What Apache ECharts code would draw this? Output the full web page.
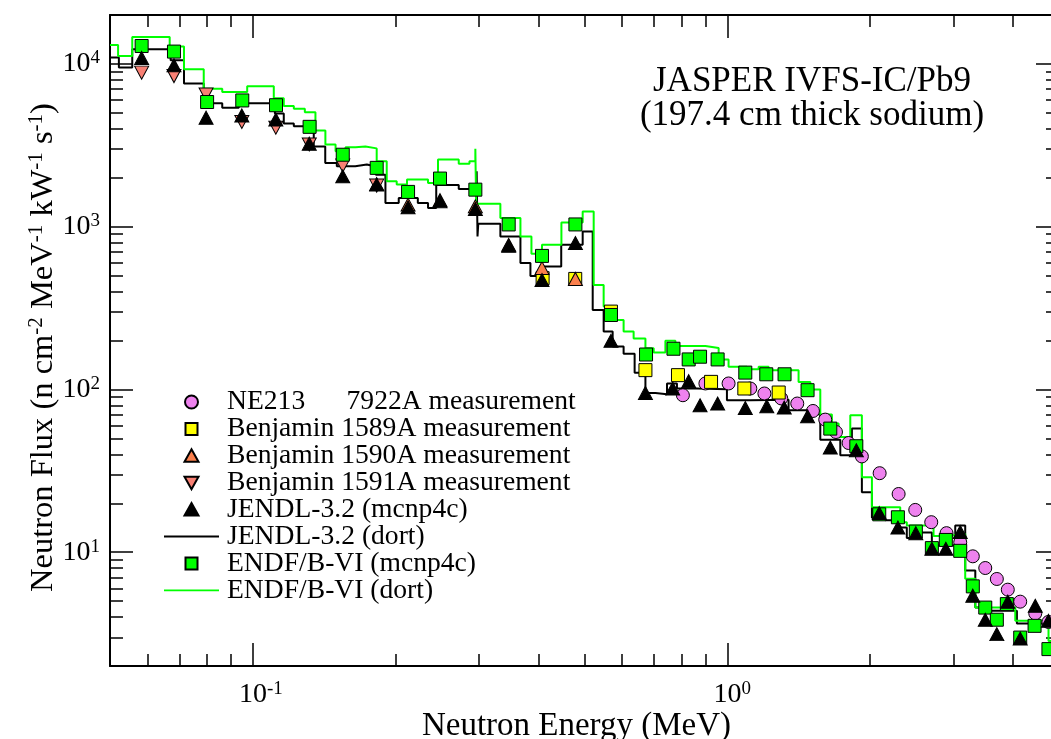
<!DOCTYPE html>
<html><head><meta charset="utf-8">
<script src="https://cdn.jsdelivr.net/npm/echarts@6/dist/echarts.min.js"></script>
<style>html,body{margin:0;padding:0;background:#fff}#c{width:1051px;height:739px}</style>
</head><body><div id="c"></div>
<script>
// ---------- data ----------
const ne213E = [0.806, 0.899, 1.006, 1.118, 1.197, 1.299, 1.404, 1.515, 1.608, 1.694, 1.801, 1.921, 2.094, 2.296, 2.489, 2.690, 2.897, 3.096, 3.291, 3.496, 3.698, 3.900, 4.142, 4.456, 4.75];
const ne213V = [92.2, 108.9, 108.9, 101.4, 94.5, 88.1, 82.0, 73.8, 65.3, 54.8, 46.9, 38.8, 30.6, 22.8, 18.2, 15.3, 13.1, 11.5, 9.44, 8.00, 6.85, 5.89, 4.97, 4.21, 3.73];

const b1589E = [0.408, 0.478, 0.5685, 0.672, 0.787, 0.924, 1.086, 1.283];
const b1589V = [483, 478, 301, 131.5, 122.5, 111.4, 101.4, 95.8];

const b1590E = [0.1824, 0.2124, 0.2480, 0.2944, 0.3461, 0.4068, 0.4784];
const b1590V = [1828, 1368, 1456, 1334, 774, 557, 478];

const b1591E = [0.0583, 0.0682, 0.0797, 0.0948, 0.1118, 0.1315, 0.1547, 0.1824];
const b1591V = [8850, 8430, 6500, 4400, 4060, 3200, 2375, 1790];

const jendlMcnpE = [0.0583, 0.0682, 0.0797, 0.0948, 0.1118, 0.1315, 0.1547, 0.1824, 0.2124, 0.2480, 0.2944, 0.3461, 0.4068, 0.4784, 0.5685, 0.672, 0.767, 0.829, 0.876, 0.954, 1.091, 1.211, 1.318, 1.476, 1.648, 1.870, 2.090, 2.288, 2.496, 2.698, 2.887, 3.096, 3.291, 3.496, 3.698, 3.900, 4.142, 4.456, 4.75];
const jendlMcnpV = [10900, 9820, 4680, 4830, 4560, 3240, 2040, 1815, 1318, 1432, 1285, 764, 471, 794, 199, 95.3, 101.4, 112.5, 80, 82, 77, 79, 77.4, 68.4, 44, 42.3, 17.4, 14.2, 13.1, 10.5, 10.5, 13.3, 5.41, 3.85, 3.14, 4.97, 2.95, 4.69, 3.79];

const jendlDortE = [0.05, 0.0522, 0.0557, 0.0671, 0.0716, 0.0788, 0.0862, 0.0934, 0.1113, 0.1162, 0.1220, 0.1344, 0.1421, 0.1503, 0.1644, 0.1739, 0.1816, 0.1903, 0.2030, 0.2227, 0.2340, 0.2435, 0.2716, 0.2963, 0.2975, 0.2986, 0.3324, 0.3664, 0.3846, 0.4068, 0.4466, 0.4956, 0.5203, 0.5487, 0.5732, 0.6045, 0.6377, 0.6720, 0.7054, 0.7462, 0.7831, 0.8630, 0.998, 1.118, 1.346, 1.483, 1.570, 1.730, 1.830, 1.921, 2.017, 2.152, 2.296, 2.389, 2.529, 2.698, 3.022, 3.172, 3.331, 3.523, 4.076, 5.0];
const jendlDortV = [10950, 9500, 12320, 10530, 7600, 5730, 5380, 5730, 4965, 4310, 4150, 3110, 2468, 2353, 2410, 2343, 2090, 1399, 1502, 1399, 1303, 1802, 1708, 2193, 871, 1043, 871, 598, 499, 569, 774, 935, 308, 227, 183.5, 166, 126.6, 95.3, 93.6, 108.9, 101.4, 100.4, 85.9, 86.5, 74.5, 70.4, 49.2, 39.4, 57.5, 23.4, 16.3, 15.7, 14.2, 12.25, 13.2, 11.0, 14.6, 7.71, 4.57, 4.37, 3.65, 3.65];

const endfMcnpE = [0.0583, 0.0682, 0.0801, 0.0950, 0.1119, 0.1317, 0.1547, 0.1824, 0.2124, 0.2480, 0.2944, 0.3461, 0.4068, 0.4784, 0.5685, 0.674, 0.770, 0.829, 0.876, 0.954, 1.091, 1.208, 1.320, 1.476, 1.648, 1.870, 2.090, 2.288, 2.496, 2.698, 2.887, 3.096, 3.291, 3.496, 3.698, 3.882, 4.142, 4.441, 4.75];
const endfMcnpV = [12900, 11920, 5840, 5970, 5580, 4110, 2770, 2300, 1637, 1977, 1690, 1033, 662, 1033, 287, 164, 178, 153, 159, 153, 127, 124, 124, 99, 57.5, 44.8, 17.1, 16.4, 13.4, 10.6, 11.9, 10.2, 6.17, 4.57, 3.85, 4.80, 2.99, 3.53, 2.54];

const endfDortE = [0.05, 0.0520, 0.0557, 0.0668, 0.0716, 0.0788, 0.0862, 0.0973, 0.1107, 0.1162, 0.1220, 0.1287, 0.1355, 0.1422, 0.1494, 0.1568, 0.1646, 0.1727, 0.1824, 0.1915, 0.2010, 0.2113, 0.2340, 0.2456, 0.2716, 0.2861, 0.2944, 0.2955, 0.3324, 0.3664, 0.3865, 0.4068, 0.4470, 0.4956, 0.5228, 0.5487, 0.5760, 0.6045, 0.6346, 0.6720, 0.6995, 0.7404, 0.7772, 0.8989, 0.9587, 1.006, 1.100, 1.164, 1.222, 1.413, 1.496, 1.570, 1.661, 1.716, 1.816, 1.921, 2.017, 2.314, 2.389, 2.720, 2.879, 3.172, 3.331, 4.044, 4.752, 5.0];
const endfDortV = [13090, 11210, 14660, 12790, 9270, 7050, 6720, 7310, 6150, 5510, 5310, 5060, 3905, 3200, 2914, 3080, 3110, 3030, 2525, 1901, 1815, 1948, 1859, 2590, 2434, 2525, 3010, 1386, 1131, 871, 682, 774, 1062, 1242, 439, 323, 267, 227, 206, 179, 169, 199, 185, 180, 153, 138, 133, 138, 131.5, 111.3, 100, 70.1, 61.8, 51.1, 69.4, 28.9, 18.9, 15.3, 14.6, 12.6, 12.9, 6.87, 4.57, 3.79, 2.85, 2.85];

const xMajorTicks = [0.1, 1];
const xMinorTicks = [0.06, 0.07, 0.08, 0.09, 0.2, 0.3, 0.4, 0.5, 0.6, 0.7, 0.8, 0.9, 2, 3, 4];
const yMajorTicks = [10, 100, 1000, 10000];
const yMinorTicks = [3, 4, 5, 6, 7, 8, 9, 20, 30, 40, 50, 60, 70, 80, 90, 200, 300, 400, 500, 600, 700, 800, 900, 2000, 3000, 4000, 5000, 6000, 7000, 8000, 9000];

const seriesNames = ['NE213      7922A measurement', 'Benjamin 1589A measurement', 'Benjamin 1590A measurement', 'Benjamin 1591A measurement', 'JENDL-3.2 (mcnp4c)', 'JENDL-3.2 (dort)', 'ENDF/B-VI (mcnp4c)', 'ENDF/B-VI (dort)'];

// ---------- chart ----------
const FONT = '"Liberation Serif", "Times New Roman", Times, serif';
const zip = (a, b) => a.map((x, i) => [x, b[i]]);
const XMIN = 0.05, XMAX = 5, YMIN = 2, YMAX = 20000;
const supStyle = { fontFamily: FONT, fontSize: 19, lineHeight: 14, verticalAlign: 'top', color: '#000' };

// legend icons: a 55x13 frame with the glyph in the centre (frame set by the move-to points)
const FRAME = 'M0,0M55,13';
const legendIcons = [
  'path://' + FRAME + 'M34,6.5A6.5,6.5,0,1,1,21,6.5A6.5,6.5,0,1,1,34,6.5Z',
  'path://' + FRAME + 'M21.5,0.5L33.5,0.5L33.5,12.5L21.5,12.5Z',
  'path://' + FRAME + 'M27.5,0L34.5,12.5L20.5,12.5Z',
  'path://' + FRAME + 'M20.5,0.5L34.5,0.5L27.5,13Z',
  'path://' + FRAME + 'M27.5,0L34.5,12.5L20.5,12.5Z',
  'path://' + FRAME + 'M0,5.6L55,5.6L55,7.4L0,7.4Z',
  'path://' + FRAME + 'M21.5,0.5L33.5,0.5L33.5,12.5L21.5,12.5Z',
  'path://' + FRAME + 'M0,5.6L55,5.6L55,7.4L0,7.4Z'
];

function xAxisDef(pos, ticks, len, major) {
  const showLabel = major && pos === 'bottom';
  return {
    type: 'log', logBase: 10, min: XMIN, max: XMAX, position: pos, gridIndex: 0,
    axisLine: { show: major, onZero: false, lineStyle: { color: '#000', width: 2 } },
    axisTick: { show: true, inside: true, length: len, customValues: ticks, lineStyle: { color: '#000', width: 1.5 } },
    axisLabel: {
      show: showLabel, customValues: showLabel ? xMajorTicks : undefined, margin: 14,
      formatter: function (v) {
        const e = Math.round(Math.log10(v));
        return (e < 0 ? '{bw|10}' : '{bn|10}') + '{s|' + e + '}';
      },
      rich: {
        bw: { fontFamily: FONT, fontSize: 28, lineHeight: 30, color: '#000', padding: [0, 0, 0, 16] },
        bn: { fontFamily: FONT, fontSize: 28, lineHeight: 30, color: '#000', padding: [0, 0, 0, 10] },
        s: supStyle
      }
    },
    splitLine: { show: false }, minorTick: { show: false }, minorSplitLine: { show: false },
    name: showLabel ? 'Neutron Energy (MeV)' : '', nameLocation: 'middle', nameGap: 44, nameMoveOverlap: false,
    nameTextStyle: { fontFamily: FONT, fontSize: 33, color: '#000', padding: [0, 16, 0, 0] }
  };
}
function yAxisDef(pos, ticks, len, major) {
  const showLabel = major && pos === 'left';
  return {
    type: 'log', logBase: 10, min: YMIN, max: YMAX, position: pos, gridIndex: 0,
    axisLine: { show: major, onZero: false, lineStyle: { color: '#000', width: 2 } },
    axisTick: { show: true, inside: true, length: len, customValues: ticks, lineStyle: { color: '#000', width: 1.5 } },
    axisLabel: {
      show: showLabel, customValues: showLabel ? yMajorTicks : undefined, margin: 10,
      formatter: function (v) {
        const e = Math.round(Math.log10(v));
        return '{b|10}{s|' + e + '}';
      },
      rich: {
        b: { fontFamily: FONT, fontSize: 28, lineHeight: 30, color: '#000' },
        s: supStyle
      }
    },
    splitLine: { show: false }, minorTick: { show: false }, minorSplitLine: { show: false },
    name: showLabel ? 'Neutron Flux (n cm{s|-2} MeV{s|-1} kW{s|-1} s{s|-1})' : '',
    nameLocation: 'middle', nameRotate: 90, nameGap: 50, nameMoveOverlap: false,
    nameTextStyle: {
      fontFamily: FONT, fontSize: 32.5, color: '#000', lineHeight: 34, padding: [0, 14, 0, 0],
      rich: { s: { fontFamily: FONT, fontSize: 21, lineHeight: 18, verticalAlign: 'top', color: '#000' } }
    }
  };
}

const chart = echarts.init(document.getElementById('c'), null, { renderer: 'canvas' });
const option = {
  animation: false,
  backgroundColor: '#fff',
  title: {
    text: 'JASPER IVFS-IC/Pb9\n(197.4 cm thick sodium)',
    left: 807, top: 60, textAlign: 'center',
    textStyle: { fontFamily: FONT, fontSize: 35, fontWeight: 'normal', color: '#000', lineHeight: 34 }
  },
  grid: { left: 110, top: 15, right: -8, bottom: 73, containLabel: false, outerBoundsMode: 'none' },
  xAxis: [
    xAxisDef('bottom', xMajorTicks, 23, true),
    xAxisDef('bottom', xMinorTicks, 12, false),
    xAxisDef('top', xMajorTicks, 23, true),
    xAxisDef('top', xMinorTicks, 12, false)
  ],
  yAxis: [
    yAxisDef('left', yMajorTicks, 23, true),
    yAxisDef('left', yMinorTicks, 13, false),
    yAxisDef('right', yMajorTicks, 23, true),
    yAxisDef('right', yMinorTicks, 13, false)
  ],
  legend: {
    orient: 'vertical', left: 158, top: 383, itemWidth: 55, itemHeight: 13, itemGap: -1.1,
    selectedMode: false, symbolKeepAspect: true,
    data: seriesNames.map((n, i) => ({ name: n, icon: legendIcons[i] })),
    textStyle: { fontFamily: FONT, fontSize: 27.6, color: '#000', lineHeight: 26.1, padding: [0, 0, 0, 3] }
  },
  series: [
    { name: seriesNames[5], type: 'line', step: 'end', data: zip(jendlDortE, jendlDortV), symbol: 'none',
      lineStyle: { color: '#000', width: 2 }, itemStyle: { color: '#000' }, z: 2, silent: true },
    { name: seriesNames[7], type: 'line', step: 'end', data: zip(endfDortE, endfDortV), symbol: 'none',
      lineStyle: { color: '#00ff00', width: 2 }, itemStyle: { color: '#00ff00' }, z: 3, silent: true },
    { name: seriesNames[0], type: 'scatter', data: zip(ne213E, ne213V), symbol: 'circle', symbolSize: 13,
      itemStyle: { color: '#ee82ee', borderColor: '#000', borderWidth: 1, opacity: 1 }, z: 4 },
    { name: seriesNames[1], type: 'scatter', data: zip(b1589E, b1589V), symbol: 'rect', symbolSize: 13,
      itemStyle: { color: '#ffff00', borderColor: '#000', borderWidth: 1, opacity: 1 }, z: 5 },
    { name: seriesNames[2], type: 'scatter', data: zip(b1590E, b1590V), symbol: 'triangle', symbolSize: [14, 13],
      itemStyle: { color: '#fa7f4c', borderColor: '#000', borderWidth: 1, opacity: 1 }, z: 6 },
    { name: seriesNames[3], type: 'scatter', data: zip(b1591E, b1591V), symbol: 'path://M0,0L14,0L7,13Z', symbolSize: [14, 13],
      itemStyle: { color: '#f88074', borderColor: '#000', borderWidth: 1, opacity: 1 }, z: 7 },
    { name: seriesNames[6], type: 'scatter', data: zip(endfMcnpE, endfMcnpV), symbol: 'rect', symbolSize: 13,
      itemStyle: { color: '#00ff00', borderColor: '#000', borderWidth: 1, opacity: 1 }, z: 8 },
    { name: seriesNames[4], type: 'scatter', data: zip(jendlMcnpE, jendlMcnpV), symbol: 'triangle', symbolSize: [14, 13],
      itemStyle: { color: '#000', borderColor: '#000', borderWidth: 1, opacity: 1 }, z: 9 }
  ]
};
chart.setOption(option);
</script>
</body></html>
